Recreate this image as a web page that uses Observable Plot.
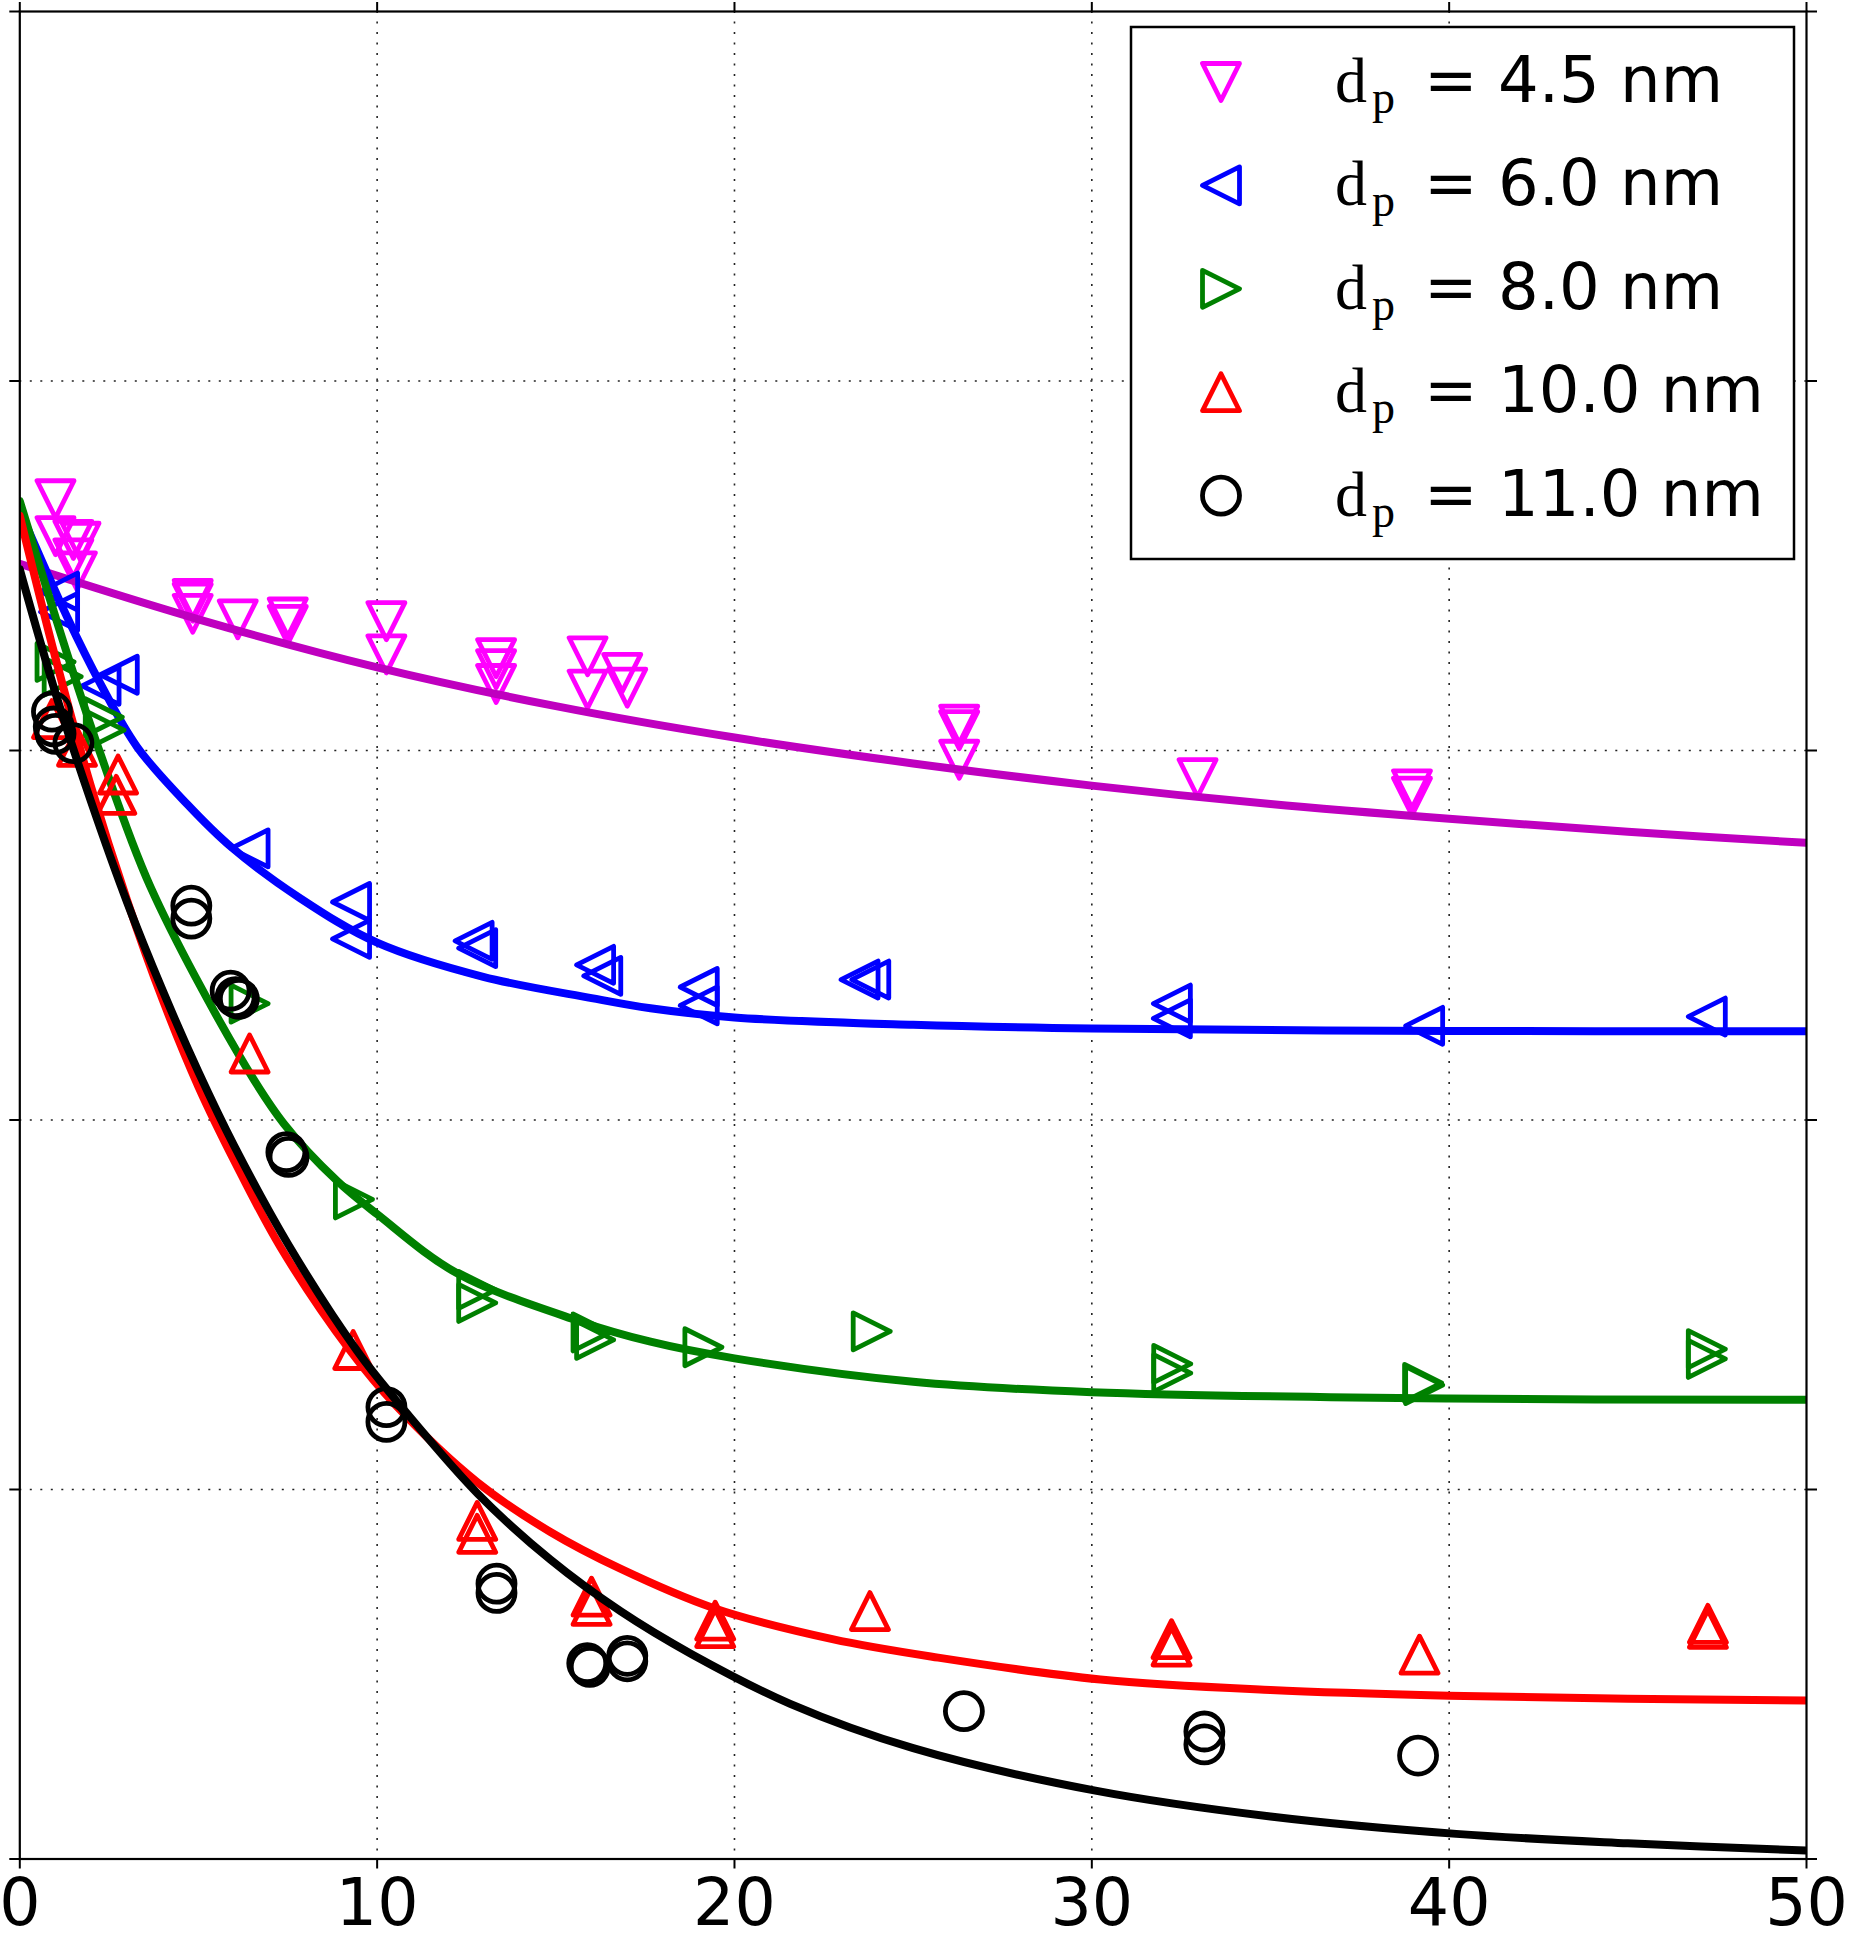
<!DOCTYPE html>
<html>
<head>
<meta charset="utf-8">
<script src="https://cdn.jsdelivr.net/npm/d3@7"></script>
<script src="https://cdn.jsdelivr.net/npm/@observablehq/plot@0.6"></script>
<style>
  html, body { margin: 0; padding: 0; background: white; }
  #wrap { position: relative; width: 1851px; height: 1938px; }
  #legend { position: absolute; left: 0; top: 0; pointer-events: none; }
</style>
</head>
<body>
<div id="wrap"></div>
<script>
// ---------- data ----------
const xTicks = [0, 10, 20, 30, 40, 50];
const yTicks = [0, 0.2, 0.4, 0.6, 0.8, 1];
const gridXTicks = [10, 20, 30, 40];
const gridYTicks = [0.2, 0.4, 0.6, 0.8];

const seriesNames = ["4.5", "6.0", "8.0", "10.0", "11.0"];
const legendLabels = ["= 4.5 nm", "= 6.0 nm", "= 8.0 nm", "= 10.0 nm", "= 11.0 nm"];

// dp = 4.5 nm (measured points)
const p45X = [1.0, 1.0, 1.5, 1.7, 1.5, 1.6, 4.84, 4.84, 4.84, 6.1, 7.5, 7.5, 10.26, 10.26, 13.33, 13.33, 13.33, 15.89, 15.89, 16.86, 17.0, 26.29, 26.29, 26.29, 32.96, 38.96, 38.96];
const p45Y = [0.736, 0.716, 0.714, 0.713, 0.704, 0.697, 0.682, 0.680, 0.674, 0.671, 0.672, 0.668, 0.670, 0.652, 0.650, 0.644, 0.636, 0.651, 0.633, 0.642, 0.634, 0.614, 0.611, 0.595, 0.585, 0.579, 0.575];
// dp = 6.0 nm
const p60X = [1.1, 1.1, 2.26, 2.77, 6.43, 9.27, 9.27, 12.7, 12.8, 16.1, 16.3, 19.0, 19.0, 23.5, 23.8, 32.24, 32.24, 39.3, 47.21];
const p60Y = [0.686, 0.675, 0.635, 0.641, 0.547, 0.518, 0.498, 0.497, 0.493, 0.484, 0.478, 0.472, 0.462, 0.476, 0.476, 0.463, 0.455, 0.451, 0.456];
// dp = 8.0 nm
const p80X = [1.0, 1.2, 2.35, 2.4, 6.43, 9.35, 12.8, 12.8, 16.0, 16.1, 19.13, 23.84, 32.25, 32.25, 39.27, 39.3, 47.21, 47.21];
const p80Y = [0.648, 0.640, 0.618, 0.611, 0.463, 0.357, 0.308, 0.301, 0.285, 0.281, 0.277, 0.2856, 0.268, 0.263, 0.2577, 0.2565, 0.276, 0.2707];
// dp = 10.0 nm
const p100X = [0.9, 1.6, 2.75, 2.7, 6.43, 9.33, 12.8, 12.8, 16.0, 16.0, 19.46, 19.46, 23.79, 32.23, 32.23, 39.17, 47.24, 47.24];
const p100Y = [0.617, 0.602, 0.587, 0.576, 0.436, 0.2755, 0.183, 0.176, 0.142, 0.137, 0.129, 0.125, 0.1342, 0.119, 0.115, 0.1106, 0.1273, 0.1246];
// dp = 11.0 nm
const p110X = [0.9, 0.95, 1.0, 1.5, 4.8, 4.8, 5.9, 6.04, 6.13, 7.46, 7.52, 10.26, 10.26, 13.34, 13.34, 15.88, 15.95, 17.0, 17.0, 26.42, 33.15, 33.15, 39.13];
const p110Y = [0.621, 0.613, 0.609, 0.604, 0.516, 0.509, 0.470, 0.4665, 0.4656, 0.3826, 0.380, 0.2446, 0.2366, 0.149, 0.144, 0.106, 0.104, 0.110, 0.107, 0.080, 0.069, 0.062, 0.056];

// fitted curves
const c45X = [0, 5, 10, 15, 20, 25, 30, 35, 40, 45, 50];
const c45Y = [0.701, 0.671, 0.645, 0.624, 0.607, 0.593, 0.581, 0.571, 0.563, 0.556, 0.550];
const c60X = [0, 1.33, 2.26, 3.28, 4.68, 5.9, 7.85, 10, 12.97, 16, 17.65, 20, 25, 30, 40, 50];
const c60Y = [0.73, 0.672, 0.636, 0.602, 0.571, 0.548, 0.52, 0.496, 0.4775, 0.466, 0.4605, 0.4555, 0.4515, 0.4495, 0.4482, 0.448];
const c80X = [0, 1.33, 2.26, 3.66, 6.17, 7.39, 8.88, 10, 12.24, 15.6, 17.65, 20, 25, 30, 40, 50];
const c80Y = [0.735, 0.652, 0.598, 0.526, 0.434, 0.398, 0.367, 0.349, 0.317, 0.2915, 0.280, 0.271, 0.2583, 0.2527, 0.2492, 0.2486];
const c100X = [0, 1, 2, 3, 4, 5, 6, 7.3, 9.25, 10.5, 12.8, 14.85, 16.82, 19.39, 22.74, 25.7, 30.24, 35, 40, 45, 50];
const c100Y = [0.727, 0.650, 0.580, 0.519, 0.465, 0.418, 0.378, 0.331, 0.275, 0.246, 0.204, 0.177, 0.157, 0.136, 0.119, 0.109, 0.0972, 0.0915, 0.0884, 0.0868, 0.0858];
const c110X = [0, 1, 2, 3, 4, 5, 6, 7.5, 9.44, 10.5, 12.8, 14.85, 16.82, 18.79, 21.56, 25, 30.1, 35, 40.2, 45, 50];
const c110Y = [0.698, 0.631, 0.572, 0.518, 0.470, 0.426, 0.386, 0.333, 0.275, 0.249, 0.198, 0.162, 0.134, 0.111, 0.084, 0.060, 0.037, 0.023, 0.0136, 0.0085, 0.0046];

const markerColors = ["#ff00ff", "#0000ff", "#008000", "#ff0000", "#000000"];
const lineColors = ["#bf00bf", "#0000ff", "#008000", "#ff0000", "#000000"];

// ---------- symbols (matplotlib-like triangles centred on their box) ----------
function tri(dir) {
  return {
    draw(ctx, size) {
      const r = Math.sqrt(size / Math.PI);
      if (dir === "down") { ctx.moveTo(0, r); ctx.lineTo(-r, -r); ctx.lineTo(r, -r); }
      else if (dir === "up") { ctx.moveTo(0, -r); ctx.lineTo(r, r); ctx.lineTo(-r, r); }
      else if (dir === "left") { ctx.moveTo(-r, 0); ctx.lineTo(r, -r); ctx.lineTo(r, r); }
      else { ctx.moveTo(r, 0); ctx.lineTo(-r, r); ctx.lineTo(-r, -r); }
      ctx.closePath();
    }
  };
}
const circleSym = {
  draw(ctx, size) {
    const r = Math.sqrt(size / Math.PI);
    ctx.moveTo(r, 0); ctx.arc(0, 0, r, 0, 2 * Math.PI);
  }
};
const symbols = [tri("down"), tri("left"), tri("right"), tri("up"), circleSym];

const pointsX = [p45X, p60X, p80X, p100X, p110X];
const pointsY = [p45Y, p60Y, p80Y, p100Y, p110Y];
const curvesX = [c45X, c60X, c80X, c100X, c110X];
const curvesY = [c45Y, c60Y, c80Y, c100Y, c110Y];

const R = 18.5;
const MSW = 4.8;
const seriesMarks = seriesNames.flatMap((name, i) => {
  const pts = pointsX[i].map((x, j) => ({x, y: pointsY[i][j]}));
  const crv = curvesX[i].map((x, j) => ({x, y: curvesY[i][j]}));
  return [
    Plot.dot(pts, {x: "x", y: "y", r: R, symbol: symbols[i], stroke: markerColors[i],
                   fill: "none", strokeWidth: MSW, strokeLinejoin: "round"}),
    Plot.line(crv, {x: "x", y: "y", stroke: lineColors[i], strokeWidth: 8,
                    curve: "catmull-rom", clip: true})
  ];
});

const gridStyle = {stroke: "#222", strokeOpacity: 1, strokeWidth: 1.6, strokeDasharray: "2,8.5"};

const chart = Plot.plot({
  width: 1851,
  height: 1938,
  marginLeft: 19.3,
  marginRight: 45,
  marginTop: 11,
  marginBottom: 79.5,
  x: {domain: [0, 50], label: null},
  y: {domain: [0, 1], label: null},
  style: {fontFamily: "'DejaVu Sans', sans-serif", fontSize: "65px", background: "white", color: "black", overflow: "visible"},
  marks: [
    Plot.gridX(gridXTicks, gridStyle),
    Plot.gridY(gridYTicks, gridStyle),
    ...seriesMarks,
    Plot.frame({stroke: "black", strokeWidth: 2.2}),
    Plot.axisX(xTicks, {anchor: "bottom", label: null, tickSize: 10, tickPadding: 10, strokeWidth: 2, tickFormat: d => String(d), fontSize: 65}),
    Plot.axisX(xTicks, {anchor: "top", label: null, tickSize: 10, strokeWidth: 2, tickFormat: () => ""}),
    Plot.axisY(yTicks, {anchor: "left", label: null, tickSize: 10, strokeWidth: 2, tickFormat: () => ""}),
    Plot.axisY(yTicks, {anchor: "right", label: null, tickSize: 10, strokeWidth: 2, tickFormat: () => ""})
  ]
});

const wrap = document.getElementById("wrap");
wrap.appendChild(chart);

// ---------- legend (overlay inside the axes, top right) ----------
const leg = d3.select(wrap).append("svg")
  .attr("id", "legend")
  .attr("width", 1851).attr("height", 1938);

leg.append("rect")
  .attr("x", 1131).attr("y", 27).attr("width", 663).attr("height", 532)
  .attr("fill", "white").attr("stroke", "black").attr("stroke-width", 2.5);

seriesNames.forEach((name, i) => {
  const cy = 82 + 103.4 * i;
  const p = d3.path();
  symbols[i].draw(p, R * R * Math.PI);
  leg.append("path")
    .attr("d", p.toString())
    .attr("transform", `translate(1221,${cy})`)
    .attr("fill", "none").attr("stroke", markerColors[i])
    .attr("stroke-width", MSW).attr("stroke-linejoin", "round");
  const base = cy + 20;
  leg.append("text").attr("x", 1335).attr("y", base)
    .attr("font-family", "'Liberation Serif', serif").attr("font-size", 64).text("d");
  leg.append("text").attr("x", 1372).attr("y", base + 11)
    .attr("font-family", "'Liberation Serif', serif").attr("font-size", 46).text("p");
  leg.append("text").attr("x", 1424).attr("y", base)
    .attr("font-family", "'DejaVu Sans', sans-serif").attr("font-size", 64).text(legendLabels[i]);
});
</script>
</body>
</html>
